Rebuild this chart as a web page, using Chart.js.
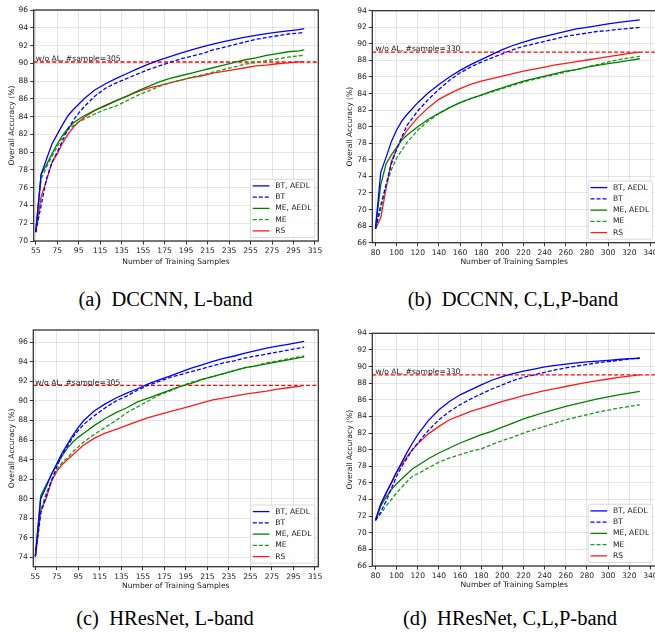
<!DOCTYPE html>
<html>
<head>
<meta charset="utf-8">
<script src="https://cdn.jsdelivr.net/npm/chart.js@4.4.0/dist/chart.umd.min.js"></script>
<style>
  html, body { margin: 0; padding: 0; background: #fff; width: 655px; height: 633px; overflow: hidden; position: relative; }
  canvas { position: absolute; }
  .cap { position: absolute; font-family: "Liberation Serif", "Times New Roman", serif; font-size: 20.5px; line-height: 20.5px;
         white-space: nowrap; color: #000; transform: translateX(-50%); }
</style>
</head>
<body>
<canvas id="pa" width="327" height="275" style="left:0;top:0"></canvas>
<canvas id="pb" width="340" height="275" style="left:327px;top:0"></canvas>
<canvas id="pc" width="327" height="275" style="left:0;top:320px"></canvas>
<canvas id="pd" width="340" height="275" style="left:327px;top:320px"></canvas>
<div class="cap" style="left:165.5px;top:288.8px">(a)&nbsp;&nbsp;DCCNN, L-band</div>
<div class="cap" style="left:513px;top:288.8px">(b)&nbsp;&nbsp;DCCNN, C,L,P-band</div>
<div class="cap" style="left:165px;top:607.8px">(c)&nbsp;&nbsp;HResNet, L-band</div>
<div class="cap" style="left:510px;top:607.8px">(d)&nbsp;&nbsp;HResNet, C,L,P-band</div>
<script>
// ---- Number of training samples per acquisition round ----
const samplesL    = [55, 60, 65, 70, 75, 80, 85, 90, 95, 100, 110, 120, 130, 140, 150, 160, 170, 180, 190, 200, 210, 220, 230, 240, 250, 260, 270, 280, 290, 300, 305];
const samplesCLP1 = [80, 85, 90, 95, 100, 105, 110, 120, 130, 140, 150, 160, 170, 180, 190, 200, 210, 220, 230, 240, 250, 260, 270, 280, 290, 300, 310, 320, 330];
const samplesCLP2 = [80, 85, 90, 95, 100, 105, 110, 115, 120, 130, 140, 150, 160, 170, 180, 190, 200, 210, 220, 230, 240, 250, 260, 270, 280, 290, 300, 310, 320, 330];

// ---- (a) DCCNN, L-band: overall accuracy (%) ----
const dccnnL_btAedl = [71.0, 77.5, 79.2, 80.9, 82.0, 83.1, 84.1, 84.8, 85.4, 86.0, 87.0, 87.7, 88.3, 88.85, 89.4, 89.9, 90.35, 90.75, 91.15, 91.5, 91.85, 92.15, 92.45, 92.7, 92.95, 93.15, 93.35, 93.5, 93.65, 93.8, 93.9];
const dccnnL_bt     = [71.0, 74.0, 77.0, 78.8, 80.0, 81.3, 82.6, 83.6, 84.4, 85.1, 86.3, 87.2, 87.8, 88.3, 88.8, 89.3, 89.7, 90.1, 90.5, 90.8, 91.1, 91.5, 91.8, 92.1, 92.4, 92.7, 92.9, 93.1, 93.3, 93.4, 93.5];
const dccnnL_meAedl = [71.0, 77.5, 78.6, 79.8, 80.9, 81.9, 82.7, 83.3, 83.7, 84.1, 84.7, 85.2, 85.8, 86.3, 86.9, 87.4, 87.9, 88.3, 88.6, 88.9, 89.2, 89.5, 89.8, 90.1, 90.4, 90.6, 90.9, 91.1, 91.3, 91.4, 91.5];
const dccnnL_me     = [71.0, 77.0, 78.3, 79.5, 80.6, 81.7, 82.5, 83.0, 83.4, 83.7, 84.3, 84.8, 85.2, 85.8, 86.4, 86.9, 87.4, 87.8, 88.1, 88.4, 88.7, 89.0, 89.3, 89.6, 89.9, 90.1, 90.3, 90.5, 90.7, 90.85, 90.9];
const dccnnL_rs     = [71.0, 75.0, 76.8, 78.8, 79.8, 81.0, 82.0, 82.8, 83.4, 83.9, 84.7, 85.3, 85.8, 86.3, 86.8, 87.2, 87.5, 87.8, 88.1, 88.4, 88.6, 88.9, 89.1, 89.3, 89.5, 89.7, 89.8, 89.95, 90.05, 90.15, 90.2];

// ---- (b) DCCNN, C,L,P-band ----
const dccnnCLP_btAedl = [67.7, 74.5, 76.3, 78.2, 79.6, 80.7, 81.5, 82.9, 84.1, 85.1, 86.0, 86.8, 87.5, 88.1, 88.7, 89.3, 89.8, 90.2, 90.6, 90.9, 91.2, 91.5, 91.8, 92.0, 92.2, 92.4, 92.6, 92.75, 92.9];
const dccnnCLP_bt     = [67.7, 70.5, 73.0, 75.5, 77.3, 78.8, 80.2, 81.9, 83.3, 84.5, 85.6, 86.5, 87.2, 87.8, 88.3, 88.8, 89.3, 89.7, 90.0, 90.3, 90.6, 90.9, 91.1, 91.3, 91.5, 91.6, 91.75, 91.85, 92.0];
const dccnnCLP_meAedl = [67.7, 73.0, 75.5, 76.6, 77.5, 78.4, 79.0, 80.0, 80.9, 81.6, 82.3, 82.9, 83.4, 83.8, 84.3, 84.7, 85.1, 85.5, 85.8, 86.1, 86.4, 86.7, 86.9, 87.2, 87.4, 87.6, 87.8, 88.0, 88.2];
const dccnnCLP_me     = [67.7, 70.0, 72.8, 74.8, 76.2, 77.2, 78.1, 79.6, 80.7, 81.6, 82.3, 82.9, 83.4, 83.8, 84.2, 84.6, 85.0, 85.4, 85.7, 86.0, 86.3, 86.6, 86.9, 87.2, 87.5, 87.8, 88.1, 88.3, 88.5];
const dccnnCLP_rs     = [67.7, 69.0, 72.5, 75.8, 77.3, 78.6, 79.6, 81.1, 82.3, 83.3, 84.0, 84.6, 85.1, 85.5, 85.8, 86.1, 86.4, 86.7, 86.95, 87.2, 87.45, 87.65, 87.85, 88.05, 88.25, 88.45, 88.65, 88.85, 89.0];

// ---- (c) HResNet, L-band ----
const hresL_btAedl = [74.1, 80.0, 81.2, 82.5, 83.6, 84.7, 85.6, 86.5, 87.3, 88.0, 89.0, 89.7, 90.3, 90.8, 91.25, 91.75, 92.15, 92.55, 92.95, 93.35, 93.7, 94.05, 94.35, 94.6, 94.9, 95.15, 95.4, 95.6, 95.8, 96.0, 96.1];
const hresL_bt     = [74.1, 78.5, 80.2, 81.8, 83.3, 84.5, 85.4, 86.3, 87.0, 87.6, 88.5, 89.3, 90.0, 90.5, 91.1, 91.6, 92.0, 92.4, 92.7, 93.0, 93.3, 93.6, 93.9, 94.1, 94.4, 94.6, 94.8, 95.0, 95.2, 95.4, 95.5];
const hresL_meAedl = [74.1, 80.3, 81.4, 82.5, 83.5, 84.4, 85.2, 85.8, 86.3, 86.7, 87.5, 88.2, 88.8, 89.3, 89.9, 90.3, 90.7, 91.1, 91.5, 91.8, 92.2, 92.5, 92.8, 93.1, 93.4, 93.6, 93.8, 94.0, 94.2, 94.4, 94.5];
const hresL_me     = [74.1, 78.8, 80.5, 81.9, 83.0, 83.7, 84.2, 84.8, 85.3, 85.8, 86.6, 87.3, 88.0, 88.8, 89.4, 90.0, 90.6, 91.0, 91.5, 91.9, 92.2, 92.5, 92.8, 93.1, 93.4, 93.6, 93.9, 94.1, 94.3, 94.5, 94.6];
const hresL_rs     = [74.1, 78.8, 80.0, 81.8, 82.8, 83.5, 84.0, 84.5, 85.0, 85.5, 86.2, 86.7, 87.1, 87.5, 87.9, 88.3, 88.6, 88.9, 89.2, 89.5, 89.8, 90.1, 90.3, 90.5, 90.7, 90.85, 91.0, 91.2, 91.35, 91.5, 91.6];

// ---- (d) HResNet, C,L,P-band ----
const hresCLP_btAedl = [71.5, 73.5, 74.8, 76.0, 77.3, 78.5, 79.7, 80.8, 81.8, 83.5, 84.8, 85.8, 86.6, 87.2, 87.8, 88.35, 88.8, 89.15, 89.45, 89.7, 89.95, 90.15, 90.3, 90.45, 90.55, 90.65, 90.75, 90.85, 90.95, 91.0];
const hresCLP_bt     = [71.5, 72.5, 73.8, 75.3, 76.8, 78.0, 79.0, 80.0, 80.8, 82.3, 83.6, 84.6, 85.4, 86.1, 86.7, 87.3, 87.8, 88.3, 88.7, 89.0, 89.3, 89.6, 89.85, 90.05, 90.25, 90.45, 90.6, 90.75, 90.9, 91.0];
const hresCLP_meAedl = [71.5, 73.2, 74.3, 75.2, 75.9, 76.5, 77.1, 77.7, 78.1, 78.9, 79.6, 80.2, 80.8, 81.3, 81.8, 82.2, 82.7, 83.2, 83.7, 84.1, 84.5, 84.85, 85.2, 85.5, 85.8, 86.1, 86.35, 86.6, 86.8, 87.0];
const hresCLP_me     = [71.5, 72.3, 73.2, 74.0, 74.8, 75.5, 76.2, 76.8, 77.1, 77.8, 78.5, 79.0, 79.4, 79.8, 80.1, 80.6, 81.1, 81.5, 82.0, 82.4, 82.8, 83.2, 83.6, 83.9, 84.2, 84.5, 84.75, 85.0, 85.2, 85.4];
const hresCLP_rs     = [71.5, 73.3, 74.7, 76.0, 77.3, 78.3, 79.2, 80.0, 80.7, 81.9, 82.8, 83.6, 84.1, 84.6, 85.0, 85.4, 85.8, 86.15, 86.5, 86.8, 87.1, 87.35, 87.6, 87.85, 88.1, 88.3, 88.5, 88.7, 88.85, 89.0];

// ---- Full-training-set accuracy (no active learning) ----
const noAlAcc     = [90.15, 89.0, 91.6, 89.0];
const noAlSamples = [305, 330, 305, 330];

// ---- Tick labels ----
const ticksSamplesL   = [55, 75, 95, 115, 135, 155, 175, 195, 215, 235, 255, 275, 295, 315];
const ticksSamplesCLP = [80, 100, 120, 140, 160, 180, 200, 220, 240, 260, 280, 300, 320, 340];
const ticksAccA = [70, 72, 74, 76, 78, 80, 82, 84, 86, 88, 90, 92, 94, 96];
const ticksAccB = [66, 68, 70, 72, 74, 76, 78, 80, 82, 84, 86, 88, 90, 92, 94];
const ticksAccC = [74, 76, 78, 80, 82, 84, 86, 88, 90, 92, 94, 96];
const ticksAccD = [66, 68, 70, 72, 74, 76, 78, 80, 82, 84, 86, 88, 90, 92, 94];

const seriesNames = ['BT, AEDL', 'BT', 'ME, AEDL', 'ME', 'RS'];

// ---- Styling ----
const FONT = 'DejaVu Sans';
const FS = 7.6;
const TXT = '#1a1a1a';
const seriesStyle = [
  { color: '#0000ff', dash: [] },
  { color: '#0000ff', dash: [4, 2] },
  { color: '#008000', dash: [] },
  { color: '#1f9a1f', dash: [4, 2] },
  { color: '#ff1a1a', dash: [] }
];

Chart.defaults.font.family = FONT;
Chart.defaults.font.size = FS;
Chart.defaults.color = TXT;

// axes frame (all four spines)
const framePlugin = {
  id: 'frame',
  afterDatasetsDraw(chart) {
    const { ctx, chartArea: a } = chart;
    ctx.save();
    ctx.strokeStyle = '#333';
    ctx.lineWidth = 1.3;
    ctx.strokeRect(a.left, a.top, a.right - a.left, a.bottom - a.top);
    ctx.restore();
  }
};

// annotation above the no-AL reference line
const refLabelPlugin = {
  id: 'refLabel',
  afterDatasetsDraw(chart, args, opts) {
    const { ctx, scales } = chart;
    const x = scales.x.getPixelForValue(opts.x);
    const y = scales.y.getPixelForValue(opts.y);
    ctx.save();
    ctx.fillStyle = TXT;
    ctx.font = FS + 'px "' + FONT + '"';
    ctx.textAlign = 'left';
    ctx.textBaseline = 'alphabetic';
    ctx.fillText(opts.text, x, y - 0.8);
    ctx.restore();
  }
};

// legend box in the lower-right corner of the plot area
const cornerLegendPlugin = {
  id: 'cornerLegend',
  afterDraw(chart) {
    const { ctx, chartArea: a } = chart;
    const items = chart.data.datasets.filter(d => !d.isRef);
    const w = 64.3, row = 11.25, edge = 6.6, gap = 3.5;
    const h = row * (items.length - 1) + 2 * edge;
    const x0 = a.right - gap - w, y0 = a.bottom - gap - h;
    ctx.save();
    ctx.beginPath();
    if (ctx.roundRect) ctx.roundRect(x0, y0, w, h, 2); else ctx.rect(x0, y0, w, h);
    ctx.fillStyle = 'rgba(255,255,255,0.85)';
    ctx.fill();
    ctx.strokeStyle = '#cfcfcf';
    ctx.lineWidth = 0.8;
    ctx.stroke();
    ctx.font = FS + 'px "' + FONT + '"';
    ctx.textBaseline = 'middle';
    ctx.textAlign = 'left';
    items.forEach((d, i) => {
      const y = y0 + edge + i * row;
      ctx.strokeStyle = d.borderColor;
      ctx.lineWidth = 1.3;
      ctx.setLineDash(d.borderDash || []);
      ctx.beginPath();
      ctx.moveTo(x0 + 2.3, y);
      ctx.lineTo(x0 + 19, y);
      ctx.stroke();
      ctx.setLineDash([]);
      ctx.fillStyle = TXT;
      ctx.fillText(d.label, x0 + 24.7, y);
    });
    ctx.restore();
  }
};

function makePanel(id, lay, samples, series, xRange, yRange, xTicks, yTicks, refAcc, refSamples) {
  const datasets = series.map((vals, i) => ({
    label: seriesNames[i],
    data: samples.map((s, k) => ({ x: s, y: vals[k] })),
    borderColor: seriesStyle[i].color,
    borderDash: seriesStyle[i].dash,
    borderWidth: 1.3,
    pointRadius: 0,
    fill: false,
    tension: 0
  }));
  datasets.push({
    label: 'w/o AL',
    isRef: true,
    data: [{ x: xRange[0], y: refAcc }, { x: xRange[1], y: refAcc }],
    borderColor: '#ff0000',
    borderDash: [4, 2.2],
    borderWidth: 1.3,
    pointRadius: 0,
    fill: false
  });

  const gridOpts = { color: 'rgba(0,0,0,0.11)', lineWidth: 0.9, drawTicks: true, tickLength: 3.5, tickColor: '#333', tickWidth: 1 };
  const tickFont = { family: FONT, size: FS };

  new Chart(document.getElementById(id), {
    type: 'line',
    data: { datasets },
    options: {
      responsive: false,
      animation: false,
      devicePixelRatio: 1,
      layout: { padding: { top: lay.top, right: lay.right, left: 0, bottom: 0 } },
      plugins: {
        legend: { display: false },
        tooltip: { enabled: false },
        refLabel: { x: samples[0], y: refAcc, text: 'w/o AL, #sample=' + refSamples }
      },
      scales: {
        x: {
          type: 'linear', min: xRange[0], max: xRange[1],
          afterBuildTicks: s => { s.ticks = xTicks.map(v => ({ value: v })); },
          afterFit: s => { s.height = lay.xh; },
          grid: gridOpts,
          border: { display: false },
          ticks: { font: tickFont, color: TXT, padding: 2, maxRotation: 0, autoSkip: false, callback: v => String(v) },
          title: { display: true, text: 'Number of Training Samples', color: TXT, font: tickFont, padding: { top: 0, bottom: lay.xtp } }
        },
        y: {
          type: 'linear', min: yRange[0], max: yRange[1],
          afterBuildTicks: s => { s.ticks = yTicks.map(v => ({ value: v })); },
          afterFit: s => { s.width = lay.yw; },
          grid: gridOpts,
          border: { display: false },
          ticks: { font: tickFont, color: TXT, padding: 2, autoSkip: false, callback: v => String(v) },
          title: { display: true, text: 'Overall Accuracy (%)', color: TXT, font: tickFont, padding: { top: lay.ytp, bottom: 0 } }
        }
      }
    },
    plugins: [framePlugin, refLabelPlugin, cornerLegendPlugin]
  });
}

makePanel('pa', { top: 10, right: 8.7, yw: 33.7, xh: 34, xtp: 8.74, ytp: 7.14 },
  samplesL, [dccnnL_btAedl, dccnnL_bt, dccnnL_meAedl, dccnnL_me, dccnnL_rs],
  [53.1, 318.1], [70, 96], ticksSamplesL, ticksAccA, noAlAcc[0], noAlSamples[0]);

makePanel('pb', { top: 10.7, right: 11, yw: 45.3, xh: 32.3, xtp: 8.44, ytp: 18.44 },
  samplesCLP1, [dccnnCLP_btAedl, dccnnCLP_bt, dccnnCLP_meAedl, dccnnCLP_me, dccnnCLP_rs],
  [77, 345.3], [66, 94], ticksSamplesCLP, ticksAccB, noAlAcc[1], noAlSamples[1]);

makePanel('pc', { top: 10, right: 8.7, yw: 33.3, xh: 28.3, xtp: 4.74, ytp: 7.14 },
  samplesL, [hresL_btAedl, hresL_bt, hresL_meAedl, hresL_me, hresL_rs],
  [53.1, 318.1], [73.04, 97.26], ticksSamplesL, ticksAccC, noAlAcc[2], noAlSamples[2]);

makePanel('pd', { top: 13.3, right: 11, yw: 45.3, xh: 29, xtp: 5.44, ytp: 18.44 },
  samplesCLP2, [hresCLP_btAedl, hresCLP_bt, hresCLP_meAedl, hresCLP_me, hresCLP_rs],
  [77, 345.3], [66, 94], ticksSamplesCLP, ticksAccD, noAlAcc[3], noAlSamples[3]);
</script>
</body>
</html>
